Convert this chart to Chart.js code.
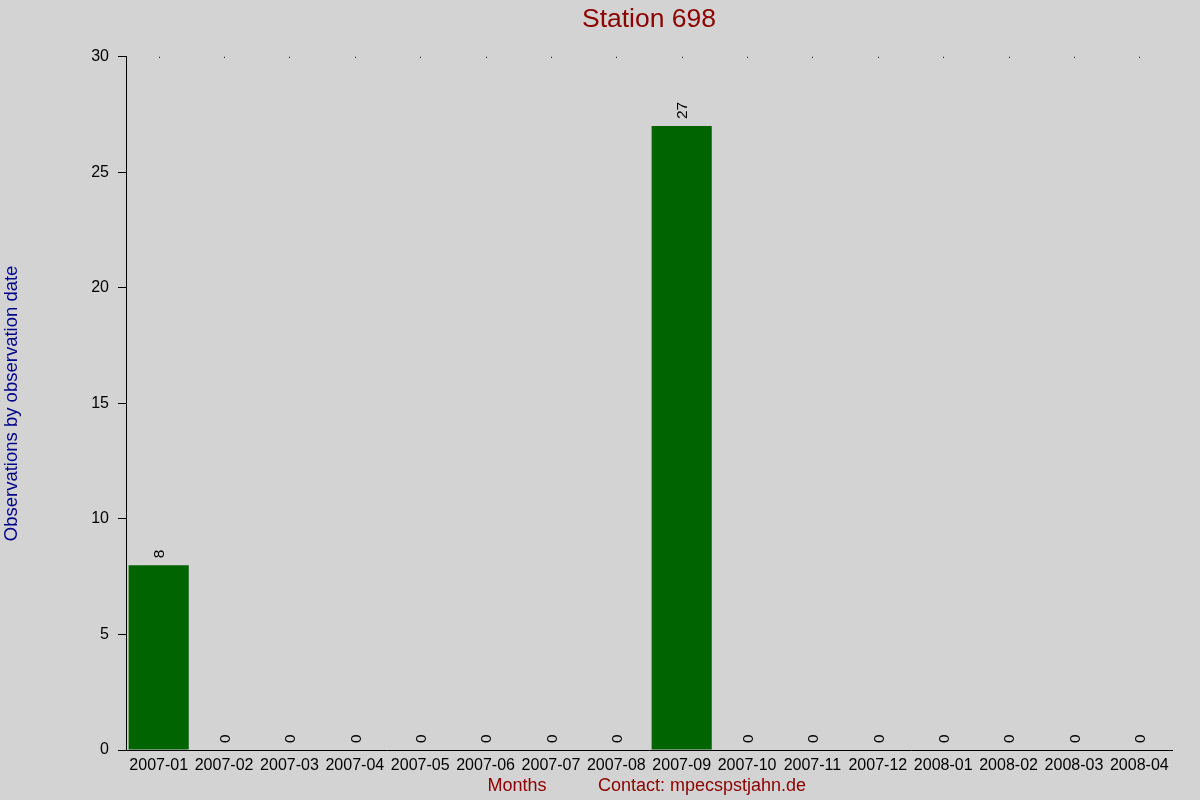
<!DOCTYPE html>
<html>
<head>
<meta charset="utf-8">
<script src="https://cdn.jsdelivr.net/npm/chart.js@4"></script>
<style>
html,body{margin:0;padding:0;background:#d3d3d3;}
#wrap{width:1200px;height:800px;}
</style>
</head>
<body>
<div id="wrap"><canvas id="c" width="1200" height="800"></canvas></div>
<script>
const months = ["2007-01","2007-02","2007-03","2007-04","2007-05","2007-06","2007-07","2007-08","2007-09","2007-10","2007-11","2007-12","2008-01","2008-02","2008-03","2008-04"];
const observations = [8,0,0,0,0,0,0,0,27,0,0,0,0,0,0,0];
const chartTitle = "Station 698";
const yTitle = "Observations by observation date";
const xTitle = "Months";
const contactText = "Contact: mpecspstjahn.de";

const FONT = "'Liberation Sans', Arial, sans-serif";

const bgPlugin = {
  id: 'bg',
  beforeDraw(chart) {
    const ctx = chart.ctx;
    ctx.save();
    ctx.fillStyle = '#d3d3d3';
    ctx.fillRect(0, 0, chart.width, chart.height);
    ctx.restore();
  }
};

const extrasPlugin = {
  id: 'extras',
  afterDatasetsDraw(chart) {
    const ctx = chart.ctx;
    const meta = chart.getDatasetMeta(0);
    const xs = chart.scales.x;
    const top = chart.chartArea.top;
    ctx.save();
    // top dots at category centres
    ctx.fillStyle = '#000';
    for (let i = 0; i < months.length; i++) {
      const x = Math.round(xs.getPixelForValue(i));
      ctx.fillRect(x, top, 1, 1);
    }
    // value labels
    ctx.font = "15.5px " + FONT;
    ctx.fillStyle = '#000';
    ctx.textAlign = 'left';
    ctx.textBaseline = 'middle';
    meta.data.forEach((bar, i) => {
      ctx.save();
      ctx.translate(bar.x + 1.5, bar.y - 7);
      ctx.rotate(-Math.PI / 2);
      ctx.fillText(String(observations[i]), 0, 0);
      ctx.restore();
    });
    // x titles
    ctx.font = "18px " + FONT;
    ctx.fillStyle = '#8b0000';
    ctx.textAlign = 'center';
    ctx.textBaseline = 'middle';
    ctx.fillText(xTitle, 517, 786);
    ctx.textAlign = 'left';
    ctx.fillText(contactText, 598, 786);
    ctx.restore();
  }
};

new Chart(document.getElementById('c'), {
  type: 'bar',
  data: {
    labels: months,
    datasets: [{
      data: observations,
      backgroundColor: '#006400',
      borderWidth: 0,
      categoryPercentage: 1,
      barPercentage: 0.92
    }]
  },
  plugins: [bgPlugin, extrasPlugin],
  options: {
    responsive: false,
    devicePixelRatio: 1,
    animation: false,
    layout: { padding: { left: 0, right: 28, top: 0, bottom: 0 } },
    plugins: {
      legend: { display: false },
      tooltip: { enabled: false },
      title: {
        display: true,
        text: chartTitle,
        fullSize: false,
        color: '#8b0000',
        font: { family: FONT, size: 26.5, weight: 'normal' },
        padding: { top: 4, bottom: 21 }
      }
    },
    scales: {
      x: {
        afterFit(s) { s.height = 50; },
        grid: { display: false, drawTicks: false },
        border: { display: true, color: '#000', width: 1 },
        ticks: {
          color: '#000',
          font: { family: FONT, size: 16 },
          padding: 6,
          maxRotation: 0,
          autoSkip: false
        }
      },
      y: {
        min: 0,
        max: 30,
        afterFit(s) { s.width = 126; },
        grid: { drawOnChartArea: false, drawTicks: true, tickLength: 8, color: '#000' },
        border: { display: true, color: '#000', width: 1 },
        ticks: {
          stepSize: 5,
          color: '#000',
          font: { family: FONT, size: 16 },
          padding: 9
        },
        title: {
          display: true,
          text: yTitle,
          color: '#00008b',
          font: { family: FONT, size: 18.5 },
          padding: { top: 1, bottom: 0 }
        }
      }
    }
  }
});
</script>
</body>
</html>
